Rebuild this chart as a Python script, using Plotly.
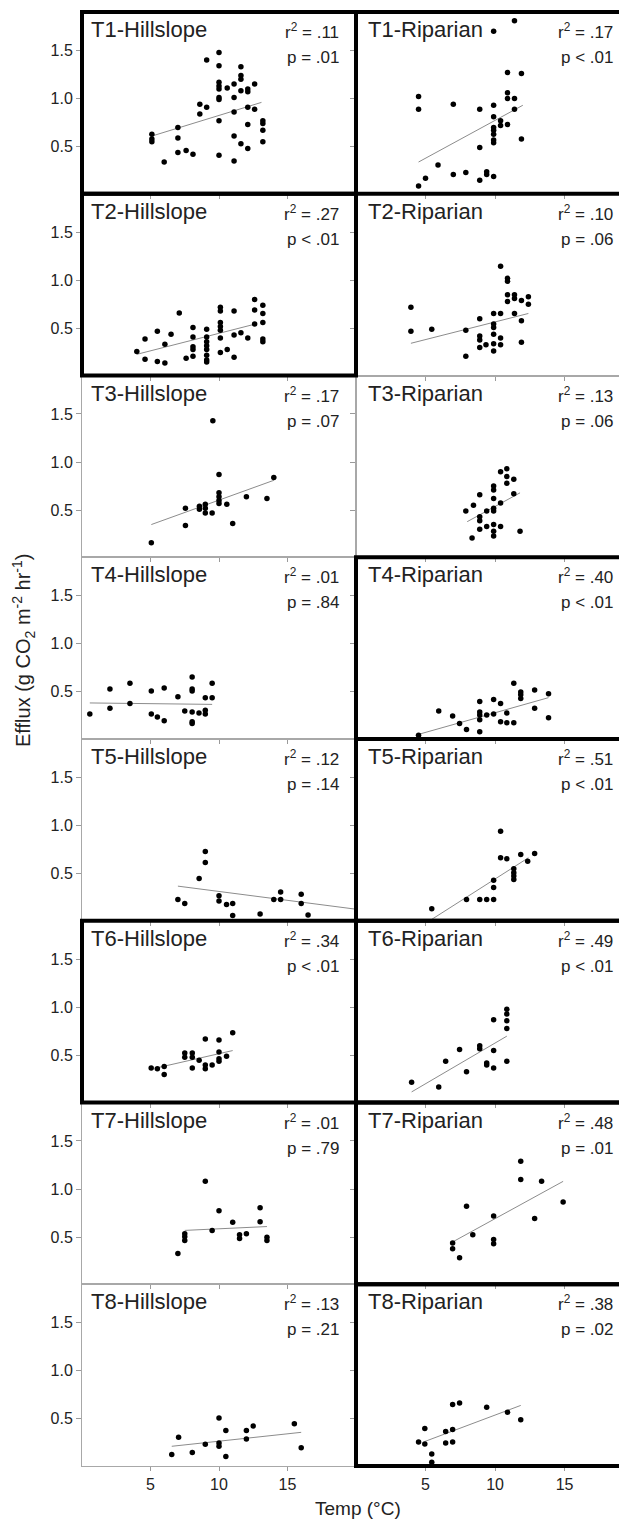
import plotly.graph_objects as go
from plotly.subplots import make_subplots

# ---------------- data ----------------
t1_hill_temp = [5.1, 5.1, 5.1, 6.0, 7.0, 7.0, 7.0, 7.6, 8.1, 8.6, 8.6, 9.1, 9.1,
                10.0, 10.0, 10.0, 10.0, 10.0, 10.0, 10.0, 10.0, 10.0, 10.6,
                11.1, 11.1, 11.1, 11.1, 11.1, 11.6, 11.6, 11.6, 11.6, 11.6,
                12.1, 12.1, 12.1, 12.1, 12.1, 12.6, 12.6, 13.2, 13.2, 13.2, 13.2]
t1_hill_efflux = [0.63, 0.58, 0.55, 0.34, 0.70, 0.59, 0.44, 0.46, 0.42, 0.94, 0.84, 0.91, 1.40,
                  1.48, 1.34, 1.17, 1.13, 1.10, 1.01, 0.99, 0.77, 0.41, 1.11,
                  1.15, 1.01, 0.86, 0.61, 0.35, 1.33, 1.24, 1.20, 1.08, 0.53,
                  1.10, 1.07, 0.91, 0.73, 0.48, 1.15, 0.89, 0.77, 0.74, 0.67, 0.55]
t1_hill_fit = ([5.1, 13.1], [0.61, 0.96])

t1_rip_temp = [4.5, 4.5, 4.5, 5.0, 5.9, 7.0, 7.0, 7.9, 8.9, 8.9, 8.9, 9.4, 9.4,
               9.9, 9.9, 9.9, 9.9, 9.9, 9.9, 9.9, 9.9, 9.9, 10.4, 10.4,
               10.9, 10.9, 10.9, 10.9, 11.4, 11.4, 11.4, 11.9, 11.9]
t1_rip_efflux = [1.02, 0.89, 0.09, 0.17, 0.31, 0.94, 0.21, 0.23, 0.89, 0.49, 0.15, 0.24, 0.21,
                 0.19, 1.70, 0.93, 0.81, 0.70, 0.67, 0.63, 0.57, 0.54, 0.77, 0.72,
                 1.27, 1.06, 1.00, 0.73, 1.81, 1.00, 0.89, 1.26, 0.58]
t1_rip_fit = ([4.5, 12.0], [0.34, 0.93])

t2_hill_temp = [4.0, 4.6, 4.6, 5.5, 5.5, 6.05, 6.05, 6.5, 7.1, 7.6,
                8.1, 8.1, 8.1, 8.1, 8.1, 9.1, 9.1, 9.1, 9.1, 9.1, 9.1, 9.1, 9.1,
                10.1, 10.1, 10.1, 10.1, 10.1, 10.1, 10.1, 10.6, 11.1, 11.1, 11.1,
                11.6, 12.1, 12.6, 12.6, 12.6, 13.2, 13.2, 13.2, 13.2, 13.2]
t2_hill_efflux = [0.26, 0.39, 0.18, 0.47, 0.155, 0.335, 0.14, 0.44, 0.66, 0.19,
                  0.51, 0.41, 0.31, 0.28, 0.21, 0.49, 0.41, 0.36, 0.32, 0.28, 0.22, 0.17, 0.15,
                  0.72, 0.68, 0.56, 0.52, 0.48, 0.40, 0.25, 0.28, 0.68, 0.43, 0.20,
                  0.455, 0.40, 0.80, 0.69, 0.545, 0.74, 0.655, 0.56, 0.39, 0.36]
t2_hill_fit = ([4.0, 12.65], [0.23, 0.545])

t2_rip_temp = [3.95, 3.95, 5.45, 7.9, 7.9, 8.9, 8.9, 8.9, 8.9, 9.35,
               9.9, 9.9, 9.9, 9.9, 9.9, 9.9, 10.4, 10.4, 10.4, 10.4,
               10.9, 10.9, 10.9, 10.9, 11.4, 11.4, 11.4, 11.9, 11.9, 11.9, 12.4, 12.4]
t2_rip_efflux = [0.72, 0.47, 0.49, 0.48, 0.21, 0.60, 0.42, 0.38, 0.30, 0.33,
                 0.655, 0.545, 0.51, 0.44, 0.34, 0.265, 1.145, 0.655, 0.40, 0.33,
                 1.02, 0.99, 0.85, 0.78, 0.85, 0.81, 0.655, 0.79, 0.58, 0.355, 0.83, 0.75]
t2_rip_fit = ([3.95, 12.4], [0.345, 0.655])

t3_hill_temp = [5.06, 7.55, 7.55, 8.57, 8.57, 9.0, 9.0, 9.0, 9.5, 9.55,
                10.0, 10.0, 10.0, 10.0, 10.0, 10.57, 11.0, 12.0, 13.5, 14.0]
t3_hill_efflux = [0.16, 0.52, 0.34, 0.54, 0.51, 0.56, 0.52, 0.47, 0.47, 1.43,
                  0.87, 0.68, 0.64, 0.60, 0.57, 0.56, 0.36, 0.64, 0.62, 0.84]
t3_hill_fit = ([5.06, 14.0], [0.35, 0.81])

t3_rip_temp = [7.9, 8.35, 8.45, 8.9, 8.9, 8.9, 8.9, 9.4, 9.4,
               9.9, 9.9, 9.9, 9.9, 9.9, 9.9, 9.9, 9.9, 10.4, 10.4, 10.4,
               10.85, 10.85, 10.85, 11.35, 11.35, 11.8]
t3_rip_efflux = [0.49, 0.21, 0.55, 0.66, 0.43, 0.39, 0.30, 0.49, 0.33,
                 0.75, 0.71, 0.62, 0.52, 0.49, 0.35, 0.28, 0.23, 0.90, 0.575, 0.33,
                 0.93, 0.85, 0.78, 0.82, 0.67, 0.28]
t3_rip_fit = ([8.0, 11.8], [0.38, 0.68])

t4_hill_temp = [0.57, 2.04, 2.04, 3.5, 3.5, 5.06, 5.06, 5.5, 6.0, 6.0, 7.0, 7.5,
                8.04, 8.04, 8.04, 8.04, 8.04, 8.04, 8.54, 9.0, 9.0, 9.0, 9.5, 9.5]
t4_hill_efflux = [0.27, 0.53, 0.33, 0.59, 0.38, 0.51, 0.27, 0.24, 0.54, 0.20, 0.45, 0.30,
                  0.655, 0.53, 0.51, 0.29, 0.19, 0.17, 0.28, 0.44, 0.31, 0.27, 0.59, 0.44]
t4_hill_fit = ([0.57, 9.5], [0.385, 0.37])

t4_rip_temp = [4.5, 5.95, 6.95, 7.45, 7.95, 8.9, 8.9, 8.9, 8.9, 8.9, 9.4, 9.9, 9.9,
               10.4, 10.4, 10.85, 10.85, 11.35, 11.35, 11.85, 11.85, 11.85,
               12.85, 12.85, 13.85, 13.85]
t4_rip_efflux = [0.05, 0.30, 0.25, 0.17, 0.11, 0.40, 0.29, 0.26, 0.21, 0.085, 0.26, 0.42, 0.27,
                 0.38, 0.19, 0.28, 0.18, 0.59, 0.18, 0.50, 0.47, 0.43,
                 0.52, 0.33, 0.48, 0.23]
t4_rip_fit = ([4.3, 13.85], [0.05, 0.44])

t5_hill_temp = [7.0, 7.5, 8.55, 9.0, 9.0, 10.0, 10.0, 10.55, 11.0, 11.0,
                13.0, 14.0, 14.5, 14.5, 16.0, 16.0, 16.5]
t5_hill_efflux = [0.23, 0.19, 0.45, 0.73, 0.615, 0.27, 0.215, 0.18, 0.19, 0.065,
                  0.08, 0.23, 0.31, 0.23, 0.285, 0.19, 0.07]
t5_hill_fit = ([7.0, 20.0], [0.37, 0.13])

t5_rip_temp = [5.45, 7.95, 8.9, 9.4, 9.9, 9.9, 9.9, 10.4, 10.4, 10.85,
               11.35, 11.35, 11.35, 11.35, 11.85, 12.35, 12.85]
t5_rip_efflux = [0.135, 0.23, 0.23, 0.23, 0.23, 0.355, 0.43, 0.94, 0.665, 0.655,
                 0.55, 0.51, 0.475, 0.44, 0.70, 0.63, 0.71]
t5_rip_fit = ([5.4, 12.4], [0.02, 0.665])

t6_hill_temp = [5.05, 5.5, 6.0, 6.0, 7.5, 7.5, 8.05, 8.05, 8.05, 8.55,
                9.0, 9.0, 9.0, 9.5, 10.0, 10.0, 10.0, 10.0, 10.55, 11.0]
t6_hill_efflux = [0.37, 0.36, 0.385, 0.30, 0.525, 0.48, 0.525, 0.48, 0.37, 0.45,
                  0.67, 0.40, 0.36, 0.40, 0.66, 0.535, 0.465, 0.44, 0.49, 0.735]
t6_hill_fit = ([5.3, 11.0], [0.365, 0.55])

t6_rip_temp = [4.0, 5.95, 6.45, 7.45, 7.95, 8.9, 8.9, 9.4, 9.4, 9.9, 9.9, 9.9,
               10.85, 10.85, 10.85, 10.85, 10.85]
t6_rip_efflux = [0.22, 0.17, 0.44, 0.56, 0.33, 0.60, 0.57, 0.42, 0.40, 0.87, 0.55, 0.37,
                 0.98, 0.93, 0.86, 0.78, 0.44]
t6_rip_fit = ([4.0, 10.85], [0.12, 0.70])

t7_hill_temp = [7.0, 7.5, 7.5, 7.5, 9.0, 9.5, 10.0, 11.0, 11.5, 11.5, 12.0, 13.0, 13.0, 13.5, 13.5]
t7_hill_efflux = [0.33, 0.535, 0.505, 0.465, 1.08, 0.57, 0.775, 0.655, 0.525, 0.485, 0.535,
                  0.805, 0.66, 0.50, 0.465]
t7_hill_fit = ([7.5, 13.5], [0.57, 0.61])

t7_rip_temp = [6.95, 6.95, 7.45, 7.95, 8.4, 9.9, 9.9, 9.9, 11.85, 11.85, 12.85, 13.35, 14.9]
t7_rip_efflux = [0.44, 0.38, 0.285, 0.82, 0.525, 0.72, 0.475, 0.43, 1.29, 1.10, 0.695, 1.08, 0.865]
t7_rip_fit = ([6.95, 14.9], [0.45, 1.08])

t8_hill_temp = [6.55, 7.05, 8.05, 9.0, 10.0, 10.0, 10.0, 10.5, 10.5, 12.0, 12.0, 12.5, 15.5, 16.0]
t8_hill_efflux = [0.13, 0.31, 0.15, 0.235, 0.51, 0.25, 0.215, 0.38, 0.11, 0.38, 0.29, 0.425, 0.45, 0.20]
t8_hill_fit = ([6.55, 16.0], [0.215, 0.36])

t8_rip_temp = [4.5, 4.95, 4.95, 5.45, 5.45, 6.45, 6.45, 6.95, 6.95, 6.95, 7.45, 9.4, 10.9, 11.85]
t8_rip_efflux = [0.26, 0.40, 0.24, 0.135, 0.05, 0.37, 0.25, 0.65, 0.39, 0.26, 0.665, 0.62, 0.57, 0.49]
t8_rip_fit = ([4.95, 11.85], [0.265, 0.64])

panel_titles = ["T1-Hillslope", "T1-Riparian", "T2-Hillslope", "T2-Riparian",
                "T3-Hillslope", "T3-Riparian", "T4-Hillslope", "T4-Riparian",
                "T5-Hillslope", "T5-Riparian", "T6-Hillslope", "T6-Riparian",
                "T7-Hillslope", "T7-Riparian", "T8-Hillslope", "T8-Riparian"]
r2_values = [".11", ".17", ".27", ".10", ".17", ".13", ".01", ".40",
             ".12", ".51", ".34", ".49", ".01", ".48", ".13", ".38"]
p_values = ["p = .01", "p < .01", "p < .01", "p = .06", "p = .07", "p = .06", "p = .84", "p < .01",
            "p = .14", "p < .01", "p < .01", "p < .01", "p = .79", "p = .01", "p = .21", "p = .02"]
highlighted = ["T1-Hillslope", "T1-Riparian", "T2-Hillslope", "T4-Riparian", "T5-Riparian",
               "T6-Hillslope", "T6-Riparian", "T7-Riparian", "T8-Riparian"]

y_ticks = [0.5, 1.0, 1.5]
y_ticktext = ["0.5", "1.0", "1.5"]
x_ticks = [5, 10, 15]

panels = [
    (t1_hill_temp, t1_hill_efflux, t1_hill_fit), (t1_rip_temp, t1_rip_efflux, t1_rip_fit),
    (t2_hill_temp, t2_hill_efflux, t2_hill_fit), (t2_rip_temp, t2_rip_efflux, t2_rip_fit),
    (t3_hill_temp, t3_hill_efflux, t3_hill_fit), (t3_rip_temp, t3_rip_efflux, t3_rip_fit),
    (t4_hill_temp, t4_hill_efflux, t4_hill_fit), (t4_rip_temp, t4_rip_efflux, t4_rip_fit),
    (t5_hill_temp, t5_hill_efflux, t5_hill_fit), (t5_rip_temp, t5_rip_efflux, t5_rip_fit),
    (t6_hill_temp, t6_hill_efflux, t6_hill_fit), (t6_rip_temp, t6_rip_efflux, t6_rip_fit),
    (t7_hill_temp, t7_hill_efflux, t7_hill_fit), (t7_rip_temp, t7_rip_efflux, t7_rip_fit),
    (t8_hill_temp, t8_hill_efflux, t8_hill_fit), (t8_rip_temp, t8_rip_efflux, t8_rip_fit),
]

# ---------------- figure ----------------
FONT = "Liberation Sans, Arial, Helvetica, sans-serif"
TXT = "#222222"
PAGE_OFF = 8                      # default body margin of the html page
W, H = 627 - PAGE_OFF, 1524 - PAGE_OFF
PLOT_L, PLOT_R, PLOT_T, PLOT_B = 82, 625, 12, 1466   # target plot area in window pixels
ML, MT = PLOT_L - PAGE_OFF, PLOT_T - PAGE_OFF
MR = 627 - PLOT_R
MB = 1524 - PLOT_B
LEFT_W, RIGHT_W = 274, 269

fig = make_subplots(rows=8, cols=2, horizontal_spacing=0, vertical_spacing=0,
                    column_widths=[LEFT_W, RIGHT_W])

annotations = []
shapes = []
for i, (tx, ty, fit) in enumerate(panels):
    row, col = i // 2 + 1, i % 2 + 1
    n = i + 1
    sfx = "" if n == 1 else str(n)
    fig.add_trace(go.Scatter(x=fit[0], y=fit[1], mode="lines",
                             line=dict(color="#8c8c8c", width=1), hoverinfo="skip"),
                  row=row, col=col)
    fig.add_trace(go.Scatter(x=tx, y=ty, mode="markers",
                             marker=dict(color="black", size=5.5, line=dict(width=0))),
                  row=row, col=col)
    fig.update_xaxes(range=[0, 20] if col == 1 else [0, 19.35], tickvals=x_ticks,
                     showticklabels=(row == 8), ticks="outside", ticklen=4,
                     tickcolor="#9a9a9a", tickwidth=1,
                     showline=True, mirror=True, linecolor="#a8a8a8", linewidth=1,
                     showgrid=False, zeroline=False,
                     tickfont=dict(family=FONT, size=16, color=TXT),
                     row=row, col=col)
    fig.update_yaxes(range=[0.01, 1.9], tickvals=y_ticks, ticktext=y_ticktext,
                     showticklabels=(col == 1), ticks="outside", ticklen=5,
                     tickcolor="#9a9a9a", tickwidth=1,
                     showline=True, mirror=True, linecolor="#a8a8a8", linewidth=1,
                     showgrid=False, zeroline=False,
                     tickfont=dict(family=FONT, size=16, color=TXT),
                     row=row, col=col)
    xr, yr = f"x{sfx} domain", f"y{sfx} domain"
    annotations.append(dict(text=panel_titles[i], xref=xr, yref=yr, x=0, y=1,
                            xanchor="left", yanchor="top", showarrow=False,
                            xshift=7 if col == 1 else 10, yshift=-3,
                            font=dict(family=FONT, size=22, color=TXT)))
    rx = -15 if col == 1 else -10
    annotations.append(dict(text=f"r<sup>2</sup> = {r2_values[i]}", xref=xr, yref=yr, x=1, y=1,
                            xanchor="right", yanchor="top", showarrow=False,
                            xshift=rx, yshift=-6,
                            font=dict(family=FONT, size=17, color=TXT)))
    annotations.append(dict(text=p_values[i], xref=xr, yref=yr, x=1, y=1,
                            xanchor="right", yanchor="top", showarrow=False,
                            xshift=rx, yshift=-34,
                            font=dict(family=FONT, size=17, color=TXT)))
    if panel_titles[i] in highlighted:
        shapes.append(dict(type="rect", xref=xr, yref=yr, x0=0, x1=1, y0=0, y1=1,
                           line=dict(color="black", width=4), layer="above"))

plot_w = PLOT_R - PLOT_L
plot_h = PLOT_B - PLOT_T
annotations.append(dict(text="Efflux (g CO<sub>2</sub> m<sup>-2</sup> hr<sup>-1</sup>)",
                        xref="paper", yref="paper", x=(23 - PLOT_L) / plot_w,
                        y=(PLOT_B - 650) / plot_h, textangle=-90,
                        xanchor="center", yanchor="middle", showarrow=False,
                        font=dict(family=FONT, size=20, color=TXT)))
annotations.append(dict(text="Temp (°C)", xref="paper", yref="paper",
                        x=(358 - PLOT_L) / plot_w, y=(PLOT_B - 1508) / plot_h,
                        xanchor="center", yanchor="middle", showarrow=False,
                        font=dict(family=FONT, size=19, color=TXT)))

fig.update_layout(width=W, height=H, margin=dict(l=ML, r=MR, t=MT, b=MB, pad=0),
                  paper_bgcolor="white", plot_bgcolor="white", showlegend=False,
                  annotations=annotations, shapes=shapes,
                  font=dict(family=FONT, color=TXT))

fig.write_html("out.html")
